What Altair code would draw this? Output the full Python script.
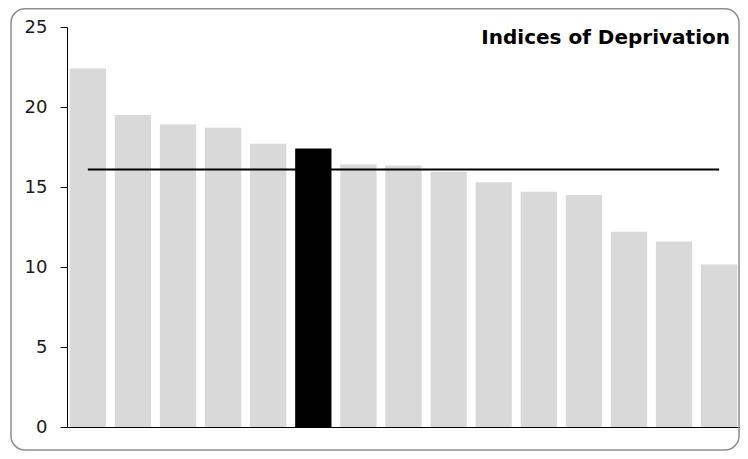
import altair as alt
import pandas as pd

# ---- data ----
areas = [f"Area {i}" for i in range(1, 16)]
values = [22.4, 19.5, 18.9, 18.7, 17.7, 17.4, 16.4, 16.35, 15.95, 15.3, 14.7, 14.5, 12.2, 11.6, 10.15]
highlight = ["no", "no", "no", "no", "no", "yes", "no", "no", "no", "no", "no", "no", "no", "no", "no"]
average = 16.1
y_ticks = [0, 5, 10, 15, 20, 25]
title_text = "Indices of Deprivation"

df = pd.DataFrame({"area": areas, "value": values, "hl": highlight})

W, H = 673, 400
FONT = "DejaVu Sans"

x_enc = alt.X("area:N", sort=None, title=None,
              scale=alt.Scale(paddingInner=0.195, paddingOuter=0.06),
              axis=alt.Axis(labels=False, ticks=False, domain=True,
                            domainColor="black", domainWidth=1))

bars = alt.Chart(df).mark_bar().encode(
    x=x_enc,
    y=alt.Y("value:Q", title=None,
            scale=alt.Scale(domain=[0, 25], nice=False),
            axis=alt.Axis(values=y_ticks, grid=False, domainColor="black",
                          tickColor="black", tickSize=7, labelPadding=13,
                          labelFont=FONT, labelFontSize=18,
                          labelColor="#1a1a1a")),
    color=alt.Color("hl:N", legend=None,
                    scale=alt.Scale(domain=["no", "yes"],
                                    range=["#d9d9d9", "#000000"])),
)

avg_line = alt.Chart(df).mark_line(color="black", strokeWidth=2).encode(
    x=alt.X("area:N", sort=None),
    y=alt.datum(average),
)

title = alt.Chart(pd.DataFrame({"t": [title_text]})).mark_text(
    align="right", baseline="alphabetic", font=FONT, fontSize=20,
    fontWeight="bold", color="black"
).encode(x=alt.value(663), y=alt.value(17.3), text="t:N")

frame = alt.Chart(pd.DataFrame({"a": [0]})).mark_rect(
    fill=None, fillOpacity=0, stroke="#8f8f8f", strokeWidth=1.5,
    cornerRadius=14, clip=False
).encode(x=alt.value(-56), x2=alt.value(W - 1),
         y=alt.value(-18.2), y2=alt.value(H + 23))

chart = alt.layer(frame, bars, avg_line, title).properties(
    width=W, height=H,
    autosize=alt.AutoSizeParams(type="none"),
    padding={"left": 59, "top": 19, "right": 0, "bottom": 24},
).configure_view(stroke=None)

chart.save("out.html", embed_options={"renderer": "svg", "actions": False})
